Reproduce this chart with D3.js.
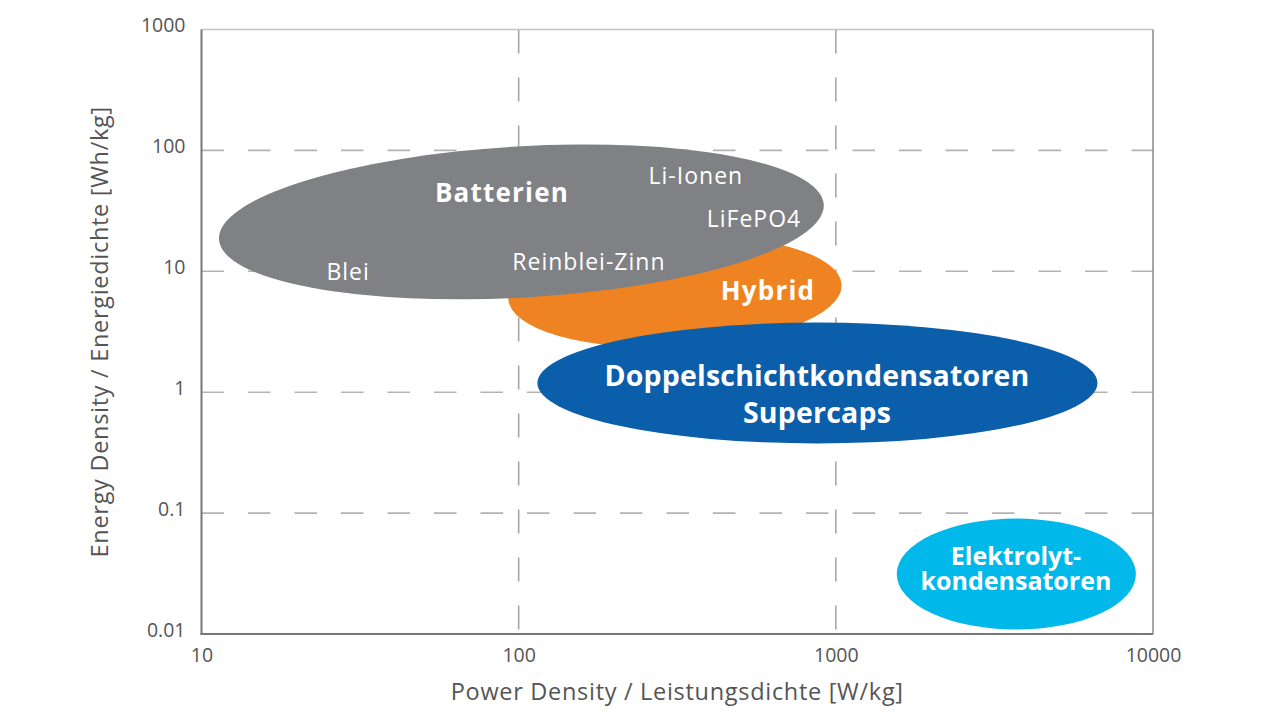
<!DOCTYPE html>
<html>
<head>
<meta charset="utf-8">
<script src="https://cdn.jsdelivr.net/npm/d3@7"></script>
<style>
  html, body { margin: 0; padding: 0; background: #fff; }
  svg { display: block; font-family: "Open Sans", "Noto Sans", sans-serif; }
</style>
</head>
<body>
<svg id="chart" width="1280" height="722"></svg>
<script>
// ---- data ----
const xTicks = [10, 100, 1000, 10000];
const xTickLabels = ["10", "100", "1000", "10000"];
const yTicks = [0.01, 0.1, 1, 10, 100, 1000];
const yTickLabels = ["0.01", "0.1", "1", "10", "100", "1000"];
const xGrid = [100, 1000];
const yGrid = [0.1, 1, 10, 100];

const xTitle = "Power Density / Leistungsdichte [W/kg]";
const yTitle = "Energy Density / Energiedichte [Wh/kg]";

// regions (drawing order): centre power [W/kg], centre energy [Wh/kg],
// half extent in decades of power / energy, tilt in degrees
const regionNames = ["Hybrid", "Batterien", "Doppelschichtkondensatoren", "Elektrolytkondensatoren"];
const regionPower = [311, 102, 875, 3707];
const regionEnergy = [6.78, 25.6, 1.19, 0.0313];
const regionPowerSpan = [0.526, 0.955, 0.883, 0.377];
const regionEnergySpan = [0.46, 0.625, 0.50, 0.459];
const regionTilt = [-2.4, -3.3, 0, 0];
const regionColors = ["#f08321", "#808184", "#0b5ea9", "#00b9ea"];

// labels: text, anchor power, baseline energy
const labelText = ["Batterien", "Li-Ionen", "LiFePO4", "Reinblei-Zinn", "Blei", "Hybrid",
                   "Doppelschichtkondensatoren", "Supercaps", "Elektrolyt-", "kondensatoren"];
const labelPower = [88.6, 362, 552, 166.5, 29, 611, 872, 872, 3698, 3698];
const labelEnergy = [37.5, 52.9, 23.3, 10.3, 8.5, 5.81, 1.13, 0.56, 0.0375, 0.0229];
const labelStyle = ["big", "small", "small", "small", "small", "big", "huge", "huge", "mid", "mid"];

// ---- layout ----
const margin = { left: 201.5, top: 29.5, right: 1280 - 1153, bottom: 722 - 634 };
const W = 1280, H = 722;
const svg = d3.select("#chart");

const x = d3.scaleLog().domain([10, 10000]).range([margin.left, W - margin.right]);
const y = d3.scaleLog().domain([0.01, 1000]).range([H - margin.bottom, margin.top]);

// gridlines
svg.append("g").selectAll("line").data(yGrid).join("line")
  .attr("x1", x(10)).attr("x2", x(10000))
  .attr("y1", d => y(d)).attr("y2", d => y(d))
  .attr("stroke", "#b3b3b3").attr("stroke-width", 1.6)
  .attr("stroke-dasharray", "22.5,24");

svg.append("g").selectAll("line").data(xGrid).join("line")
  .attr("x1", d => x(d)).attr("x2", d => x(d))
  .attr("y1", y(1000)).attr("y2", y(0.01))
  .attr("stroke", "#a5a5a5").attr("stroke-width", 1.6)
  .attr("stroke-dasharray", "24,24");

// frame
svg.append("line").attr("x1", x(10)).attr("x2", x(10000)).attr("y1", y(1000)).attr("y2", y(1000))
  .attr("stroke", "#c4c4c4").attr("stroke-width", 1.5);
svg.append("line").attr("x1", x(10000)).attr("x2", x(10000)).attr("y1", y(1000)).attr("y2", y(0.01))
  .attr("stroke", "#8a8a8a").attr("stroke-width", 1.5);

// regions
const regions = regionNames.map((n, i) => ({
  name: n, p: regionPower[i], e: regionEnergy[i],
  sp: regionPowerSpan[i], se: regionEnergySpan[i], tilt: regionTilt[i], color: regionColors[i]
}));
svg.append("g").selectAll("ellipse").data(regions).join("ellipse")
  .attr("cx", d => x(d.p))
  .attr("cy", d => y(d.e))
  .attr("rx", d => x(d.p * Math.pow(10, d.sp)) - x(d.p))
  .attr("ry", d => y(d.e) - y(d.e * Math.pow(10, d.se)))
  .attr("transform", d => `rotate(${d.tilt},${x(d.p)},${y(d.e)})`)
  .attr("fill", d => d.color);

// axes
const xAxis = d3.axisBottom(x).tickValues(xTicks).tickSize(0).tickPadding(0)
  .tickFormat((d, i) => xTickLabels[i]);
const gx = svg.append("g").attr("transform", `translate(0,${y(0.01)})`).call(xAxis);
gx.select(".domain").remove();
gx.selectAll("text").attr("y", 28).attr("dy", 0)
  .attr("font-family", "Open Sans").attr("font-size", 19.5).attr("fill", "#555");

const yAxis = d3.axisLeft(y).tickValues(yTicks).tickSize(0).tickPadding(0)
  .tickFormat((d, i) => yTickLabels[i]);
const gy = svg.append("g").attr("transform", `translate(${x(10)},0)`).call(yAxis);
gy.select(".domain").remove();
gy.selectAll("text").attr("x", -16).attr("dy", 2)
  .attr("font-family", "Open Sans").attr("font-size", 19.5).attr("fill", "#555");

// left & bottom axis lines
svg.append("line").attr("x1", x(10)).attr("x2", x(10)).attr("y1", y(1000)).attr("y2", y(0.01) + 1)
  .attr("stroke", "#777").attr("stroke-width", 2);
svg.append("line").attr("x1", x(10) - 1).attr("x2", x(10000)).attr("y1", y(0.01)).attr("y2", y(0.01))
  .attr("stroke", "#777").attr("stroke-width", 2);

// axis titles
svg.append("text")
  .attr("x", (x(10) + x(10000)) / 2).attr("y", 700)
  .attr("text-anchor", "middle").attr("font-size", 23.5).attr("letter-spacing", 0.7)
  .attr("fill", "#555")
  .text(xTitle);
svg.append("text")
  .attr("transform", `translate(108,${(y(0.01) + y(1000)) / 2}) rotate(-90)`)
  .attr("text-anchor", "middle").attr("font-size", 23.5).attr("letter-spacing", 0.7)
  .attr("fill", "#555")
  .text(yTitle);

// region labels
const styleMap = {
  small: { size: 23, weight: 500, ls: 1.0 },
  big:   { size: 26, weight: 700, ls: 1.2 },
  huge:  { size: 28.5, weight: 700, ls: 0.2 },
  mid:   { size: 25, weight: 700, ls: 0 }
};
const labels = labelText.map((t, i) => ({ t, p: labelPower[i], e: labelEnergy[i], s: styleMap[labelStyle[i]] }));
svg.append("g").selectAll("text").data(labels).join("text")
  .attr("x", d => x(d.p)).attr("y", d => y(d.e))
  .attr("text-anchor", "middle")
  .attr("font-size", d => d.s.size)
  .attr("font-weight", d => d.s.weight)
  .attr("letter-spacing", d => d.s.ls)
  .attr("fill", "#fff")
  .text(d => d.t);
</script>
</body>
</html>
